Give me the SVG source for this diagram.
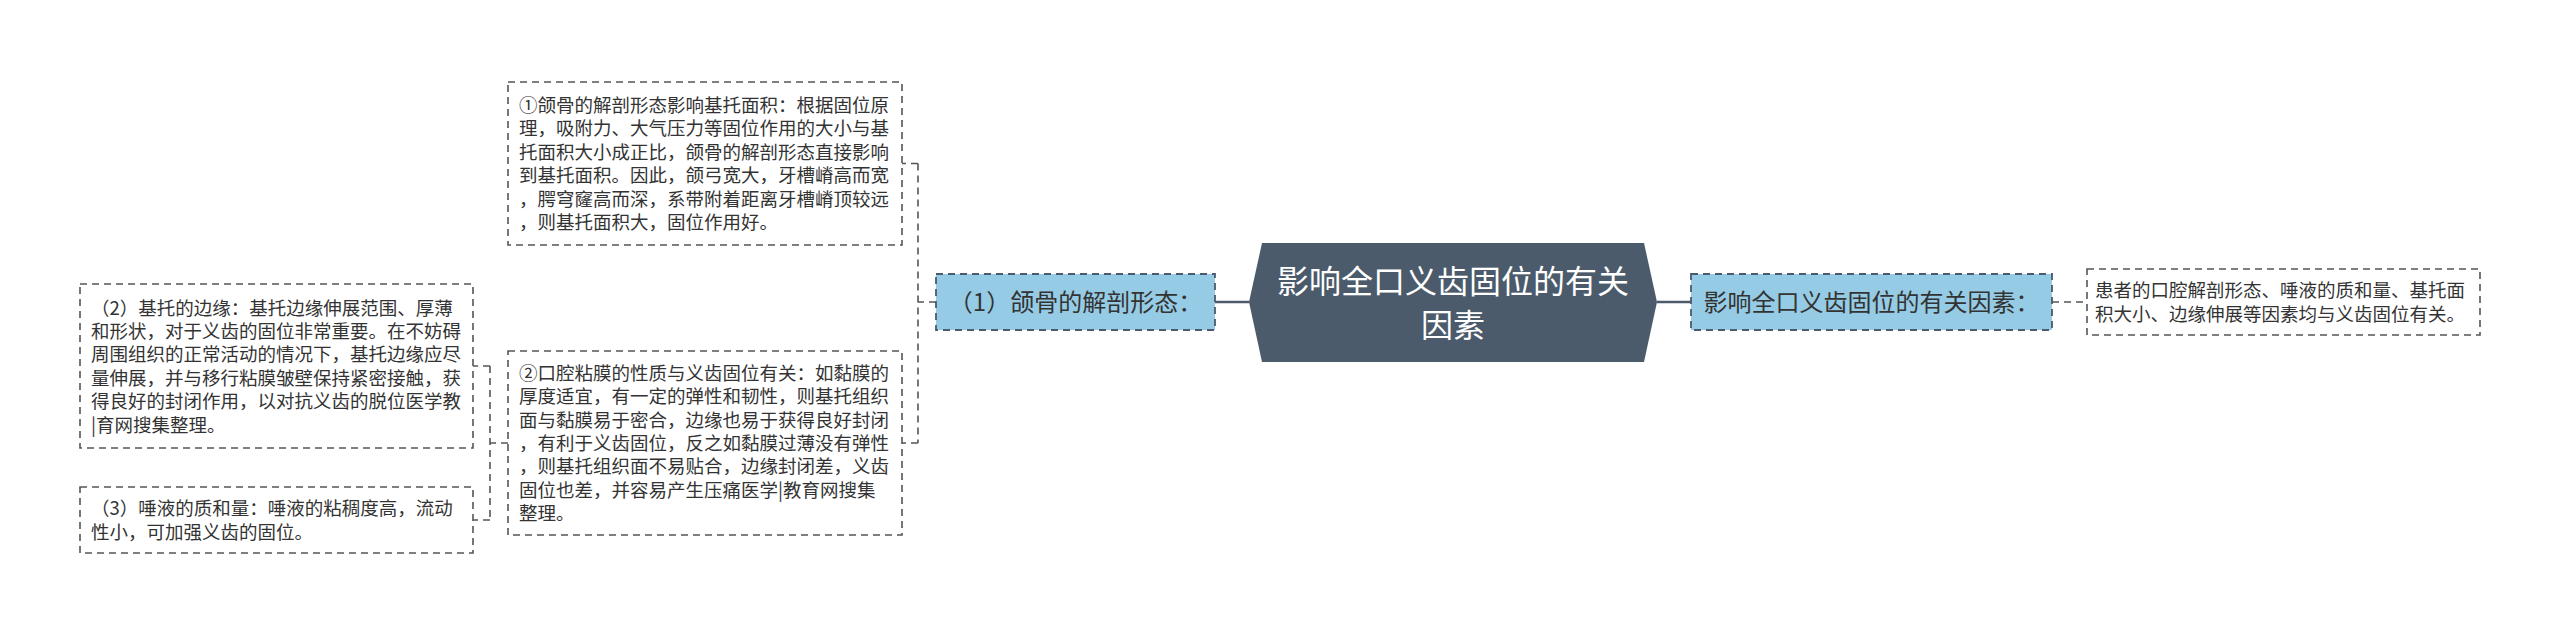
<svg xmlns="http://www.w3.org/2000/svg" width="2560" height="634" viewBox="0 0 2560 634">
<style>
text{font-family:"Noto Sans CJK SC","Noto Sans",sans-serif;}
.leaf{fill:#ffffff;stroke:#555;stroke-width:1.6;stroke-dasharray:7 5;}
.sub{fill:#95cbe4;stroke:#4b5b6b;stroke-width:1.8;stroke-dasharray:7 5;}
.root{fill:#4b5b6b;}
.t{font-size:18.5px;fill:#333;}
.ts{font-size:24px;fill:#333;text-anchor:middle;}
.tr{font-size:32px;fill:#fff;text-anchor:middle;}
.dash{fill:none;stroke:#555;stroke-width:1.6;stroke-dasharray:7 5;}
.solid{fill:none;stroke:#4b5b6b;stroke-width:2.5;}
</style>
<rect width="2560" height="634" fill="#ffffff"/>
<g id="connectors">
<path class="solid" d="M1249,302 H1215"/>
<path class="solid" d="M1657,302 H1691"/>
<path class="dash" d="M936,302 H918 M918,163.5 V443 M918,163.5 H902 M918,443 H902"/>
<path class="dash" d="M508,443 H490 M490,366 V520 M490,366 H473 M490,520 H473"/>
<path class="dash" d="M2052,302 H2087"/>
</g>
<g id="root">
<polygon class="root" points="1262,243 1644,243 1657,302 1644,362 1262,362 1249,302"/>
<text class="tr" x="1453" y="293">影响全口义齿固位的有关</text>
<text class="tr" x="1453" y="337">因素</text>
</g>
<g id="node-1">
<rect class="sub" x="936" y="274" width="279" height="56"/>
<text class="ts" x="1075.5" y="311">（1）颌骨的解剖形态：</text>
</g>
<g id="node-right">
<rect class="sub" x="1691" y="274" width="361" height="56"/>
<text class="ts" x="1871.5" y="311">影响全口义齿固位的有关因素：</text>
</g>
<g id="leaf-right">
<rect class="leaf" x="2087" y="269" width="393" height="66"/>
<text class="t" x="2095" y="297.3">患者的口腔解剖形态、唾液的质和量、基托面</text>
<text class="t" x="2095" y="320.7">积大小、边缘伸展等因素均与义齿固位有关。</text>
</g>
<g id="leaf-a">
<rect class="leaf" x="508" y="82" width="394" height="163"/>
<text class="t" x="519" y="112">①颌骨的解剖形态影响基托面积：根据固位原</text>
<text class="t" x="519" y="135.4">理，吸附力、大气压力等固位作用的大小与基</text>
<text class="t" x="519" y="158.8">托面积大小成正比，颌骨的解剖形态直接影响</text>
<text class="t" x="519" y="182.2">到基托面积。因此，颌弓宽大，牙槽嵴高而宽</text>
<text class="t" x="519" y="205.6">，腭穹窿高而深，系带附着距离牙槽嵴顶较远</text>
<text class="t" x="519" y="229">，则基托面积大，固位作用好。</text>
</g>
<g id="leaf-b">
<rect class="leaf" x="508" y="351" width="394" height="184"/>
<text class="t" x="519" y="379.8">②口腔粘膜的性质与义齿固位有关：如黏膜的</text>
<text class="t" x="519" y="403.2">厚度适宜，有一定的弹性和韧性，则基托组织</text>
<text class="t" x="519" y="426.6">面与黏膜易于密合，边缘也易于获得良好封闭</text>
<text class="t" x="519" y="450">，有利于义齿固位，反之如黏膜过薄没有弹性</text>
<text class="t" x="519" y="473.4">，则基托组织面不易贴合，边缘封闭差，义齿</text>
<text class="t" x="519" y="496.8">固位也差，并容易产生压痛医学|教育网搜集</text>
<text class="t" x="519" y="520.2">整理。</text>
</g>
<g id="leaf-c">
<rect class="leaf" x="80" y="284" width="393" height="164"/>
<text class="t" x="91" y="314.5">（2）基托的边缘：基托边缘伸展范围、厚薄</text>
<text class="t" x="91" y="337.9">和形状，对于义齿的固位非常重要。在不妨碍</text>
<text class="t" x="91" y="361.3">周围组织的正常活动的情况下，基托边缘应尽</text>
<text class="t" x="91" y="384.7">量伸展，并与移行粘膜皱壁保持紧密接触，获</text>
<text class="t" x="91" y="408.1">得良好的封闭作用，以对抗义齿的脱位医学教</text>
<text class="t" x="91" y="431.5">|育网搜集整理。</text>
</g>
<g id="leaf-d">
<rect class="leaf" x="80" y="487" width="393" height="66"/>
<text class="t" x="91" y="515.3">（3）唾液的质和量：唾液的粘稠度高，流动</text>
<text class="t" x="91" y="538.7">性小，可加强义齿的固位。</text>
</g>
</svg>
